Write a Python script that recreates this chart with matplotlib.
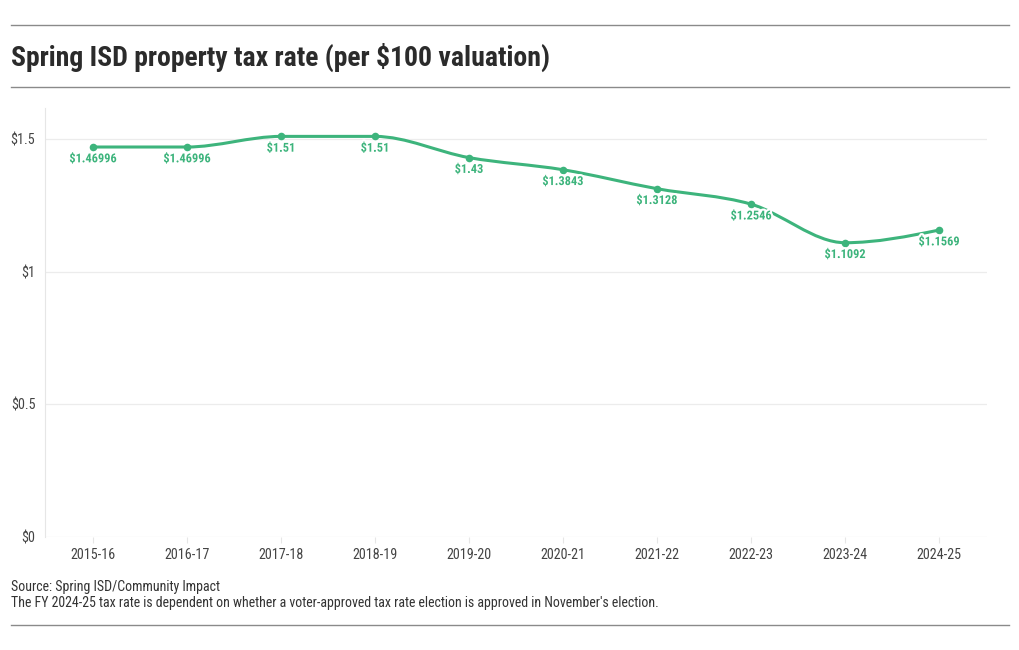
import matplotlib
matplotlib.use("Agg")
import matplotlib.pyplot as plt
import matplotlib.patheffects as pe
from matplotlib.path import Path
from matplotlib.patches import PathPatch
import numpy as np

# Дані
years = ["2015-16", "2016-17", "2017-18", "2018-19", "2019-20",
         "2020-21", "2021-22", "2022-23", "2023-24", "2024-25"]
rates = [1.46996, 1.46996, 1.51, 1.51, 1.43, 1.3843, 1.3128, 1.2546, 1.1092, 1.1569]
labels = ["$1.46996", "$1.46996", "$1.51", "$1.51", "$1.43",
          "$1.3843", "$1.3128", "$1.2546", "$1.1092", "$1.1569"]
y_ticks = [0, 0.5, 1, 1.5]
y_tick_labels = ["$0", "$0.5", "$1", "$1.5"]

GREEN = "#3db47c"
FONT = ["Roboto Condensed", "Roboto", "DejaVu Sans"]
plt.rcParams["font.family"] = FONT


# Монотонна кубічна крива (як d3.curveMonotoneX)
def monotone_path(xs, ys):
    xs = np.asarray(xs, float)
    ys = np.asarray(ys, float)
    n = len(xs)
    h = np.diff(xs)
    s = np.diff(ys) / h
    t = np.zeros(n)
    for i in range(1, n - 1):
        p = (s[i - 1] * h[i] + s[i] * h[i - 1]) / (h[i - 1] + h[i])
        t[i] = (np.sign(s[i - 1]) + np.sign(s[i])) * min(abs(s[i - 1]), abs(s[i]), 0.5 * abs(p))
    t[0] = (3 * s[0] - t[1]) / 2
    t[-1] = (3 * s[-1] - t[-2]) / 2
    verts = [(xs[0], ys[0])]
    codes = [Path.MOVETO]
    for i in range(n - 1):
        dx = (xs[i + 1] - xs[i]) / 3
        verts += [(xs[i] + dx, ys[i] + dx * t[i]),
                  (xs[i + 1] - dx, ys[i + 1] - dx * t[i + 1]),
                  (xs[i + 1], ys[i + 1])]
        codes += [Path.CURVE4] * 3
    return Path(verts, codes)


fig = plt.figure(figsize=(10.2, 6.5), dpi=100)
ax = fig.add_axes([45 / 1020, 1 - 537 / 650, 942 / 1020, 429 / 650])

x = np.arange(len(years))
ax.add_patch(PathPatch(monotone_path(x, rates), facecolor="none",
                       edgecolor=GREEN, lw=2.2, zorder=3, capstyle="round"))
ax.scatter(x, rates, s=30, color=GREEN, zorder=4, linewidths=0)

for xi, yi, lab in zip(x, rates, labels):
    ax.annotate(lab, (xi, yi), xytext=(0, -8.5), textcoords="offset points",
                ha="center", va="center", fontsize=8.9, fontweight="bold",
                color=GREEN, zorder=5,
                path_effects=[pe.withStroke(linewidth=3, foreground="white")])

ax.set_xlim(-0.51, 9.51)
ax.set_ylim(0, 1.617)
ax.set_xticks(x)
ax.set_xticklabels(years)
ax.set_yticks(y_ticks)
ax.set_yticklabels(y_tick_labels)
ax.tick_params(axis="x", length=4, color="#e6e6e6", labelsize=10.2,
               labelcolor="#444444", pad=4)
ax.tick_params(axis="y", length=0, labelsize=10.2, labelcolor="#444444", pad=7)
ax.grid(True, axis="y", color="#ececec", lw=0.9)
ax.set_axisbelow(True)
for side in ["top", "right", "bottom"]:
    ax.spines[side].set_visible(False)
ax.spines["left"].set_color("#e6e6e6")

# Заголовок та лінії
for yy in [25, 87, 625]:
    fig.add_artist(plt.Line2D([11 / 1020, 1009 / 1020], [1 - yy / 650, 1 - yy / 650],
                              color="#8a8a8a", lw=1))
fig.text(11 / 1020, 1 - 57 / 650, "Spring ISD property tax rate (per $100 valuation)",
         fontsize=20, fontweight="bold", color="#2b2b2b", va="center", ha="left")

# Джерело
fig.text(11 / 1020, 1 - 587 / 650, "Source: Spring ISD/Community Impact",
         fontsize=10, color="#333333", va="center", ha="left")
fig.text(11 / 1020, 1 - 603 / 650,
         "The FY 2024-25 tax rate is dependent on whether a voter-approved tax rate "
         "election is approved in November's election.",
         fontsize=10, color="#333333", va="center", ha="left")

fig.savefig("out.png", dpi=100)
